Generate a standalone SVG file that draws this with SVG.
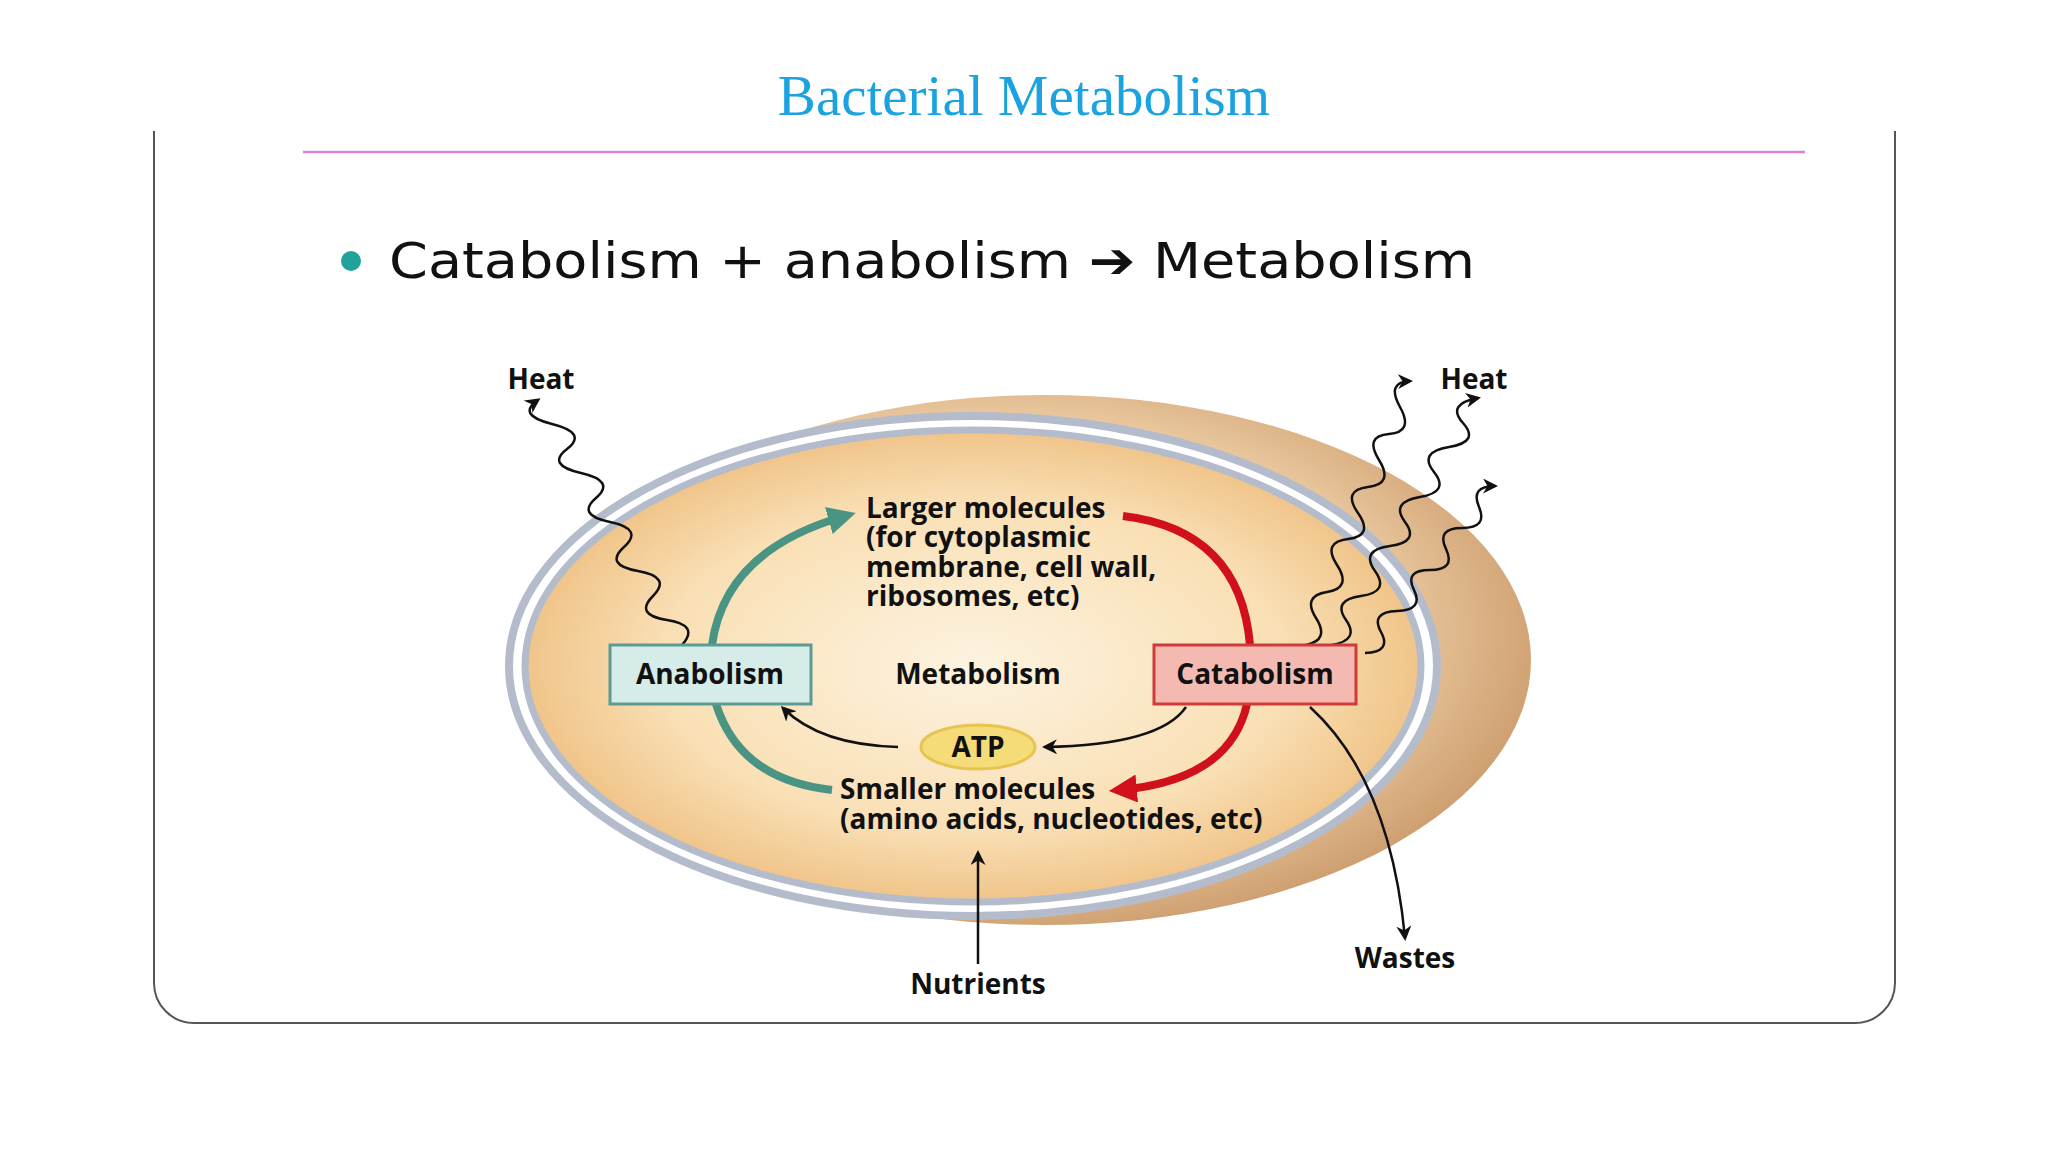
<svg xmlns="http://www.w3.org/2000/svg" width="2048" height="1152" viewBox="0 0 2048 1152">
<style>
.b{font-family:"Open Sans","DejaVu Sans",sans-serif;font-weight:bold;fill:#111}
.lb{font-size:28px}
.w{fill:none;stroke:#111;stroke-width:2.5}
</style>
<defs>
<radialGradient id="inner" cx="0.5" cy="0.5" r="0.5">
<stop offset="0" stop-color="#fdf3e0"/><stop offset="0.7" stop-color="#f9dfb4"/><stop offset="1" stop-color="#f0c489"/>
</radialGradient>
<radialGradient id="back" cx="0.45" cy="0.45" r="0.6">
<stop offset="0.6" stop-color="#f2d4ac"/><stop offset="1" stop-color="#c99868"/>
</radialGradient>
<marker id="ak" viewBox="0 0 10 10" refX="8" refY="5" markerWidth="6" markerHeight="6" orient="auto"><path d="M0,0 L10,5 L0,10 L3,5 z" fill="#111"/></marker>
<marker id="ag" viewBox="0 0 10 10" refX="6" refY="5" markerWidth="3.5" markerHeight="3.5" orient="auto"><path d="M0,0 L10,5 L0,10 z" fill="#4a9484"/></marker>
<marker id="ar" viewBox="0 0 10 10" refX="6" refY="5" markerWidth="3.5" markerHeight="3.5" orient="auto"><path d="M0,0 L10,5 L0,10 z" fill="#d0101a"/></marker>
</defs>
<rect width="2048" height="1152" fill="#fff"/>
<text x="1024" y="115" text-anchor="middle" font-family="Liberation Serif,serif" font-size="57" fill="#1aa3e0">Bacterial Metabolism</text>
<path d="M154,131 V983 A40,40 0 0 0 194,1023 H1855 A40,40 0 0 0 1895,983 V131" fill="none" stroke="#555" stroke-width="2"/>
<line x1="303" y1="152" x2="1805" y2="152" stroke="#e080d8" stroke-width="2.5"/>
<circle cx="351" cy="261" r="10" fill="#1fa39a"/>
<text x="389" y="278" font-family="DejaVu Sans,sans-serif" font-size="50" fill="#111" textLength="1086" lengthAdjust="spacingAndGlyphs">Catabolism + anabolism ➔ Metabolism</text>

<g id="cell">
<ellipse cx="1045" cy="660" rx="486" ry="265" fill="url(#back)"/>
<ellipse cx="973" cy="666" rx="464" ry="250" fill="#fff" stroke="#b4bccc" stroke-width="8"/>
<ellipse cx="973" cy="666" rx="448" ry="236" fill="url(#inner)" stroke="#b4bccc" stroke-width="7"/>
</g>

<g id="connectors">
<path d="M712,645 Q725,550 845,516" fill="none" stroke="#4a9484" stroke-width="8" marker-end="url(#ag)"/>
<path d="M716,704 Q740,780 832,790" fill="none" stroke="#4a9484" stroke-width="8"/>
<path d="M1123,516 Q1240,530 1250,645" fill="none" stroke="#d0101a" stroke-width="8"/>
<path d="M1247,704 Q1230,780 1120,790" fill="none" stroke="#d0101a" stroke-width="8" marker-end="url(#ar)"/>
<path d="M1186,707 Q1160,745 1045,747" class="w" marker-end="url(#ak)"/>
<path d="M898,747 Q820,745 783,708" class="w" marker-end="url(#ak)"/>
<path d="M978,964 V853" class="w" marker-end="url(#ak)"/>
<path d="M1310,707 Q1390,780 1405,938" class="w" marker-end="url(#ak)"/>
<path d="M682,645 Q700,625 667,620 T653,596 T638,571 T624,547 T610,522 T596,498 T581,473 T567,449 T552,424 T538,400" class="w" marker-end="url(#ak)"/>
<path d="M1306,645 Q1330,640 1316,618 T1327,592 T1337,565 T1348,539 T1358,513 T1368,487 T1379,460 T1389,434 T1400,407 T1410,381" class="w" marker-end="url(#ak)"/>
<path d="M1332,645 Q1360,640 1346,620 T1361,596 T1375,571 T1390,546 T1405,522 T1420,497 T1434,472 T1449,447 T1463,423 T1478,398" class="w" marker-end="url(#ak)"/>
<path d="M1365,653 Q1392,652 1381,632 T1397,611 T1414,590 T1430,570 T1446,549 T1462,528 T1479,507 T1495,486" class="w" marker-end="url(#ak)"/>
</g>

<g id="anabolism"><rect x="610" y="645" width="201" height="59" fill="#d6ece9" stroke="#5a9c94" stroke-width="3"/><text x="710" y="684" text-anchor="middle" class="b lb">Anabolism</text></g>
<g id="catabolism"><rect x="1154" y="645" width="202" height="59" fill="#f4bab2" stroke="#d03a3a" stroke-width="3"/><text x="1255" y="684" text-anchor="middle" class="b lb">Catabolism</text></g>
<g id="metabolism"><text x="978" y="684" text-anchor="middle" class="b lb">Metabolism</text></g>
<g id="atp"><ellipse cx="978" cy="747" rx="57" ry="22" fill="#f6dc78" stroke="#e6c450" stroke-width="3"/><text x="978" y="757" text-anchor="middle" class="b lb">ATP</text></g>
<g id="larger"><text class="b lb"><tspan x="866" y="518">Larger molecules</tspan><tspan x="866" y="547">(for cytoplasmic</tspan><tspan x="866" y="577">membrane, cell wall,</tspan><tspan x="866" y="606">ribosomes, etc)</tspan></text></g>
<g id="smaller"><text class="b lb"><tspan x="840" y="799">Smaller molecules</tspan><tspan x="840" y="829">(amino acids, nucleotides, etc)</tspan></text></g>
<g id="nutrients"><text x="978" y="994" text-anchor="middle" class="b lb">Nutrients</text></g>
<g id="wastes"><text x="1405" y="968" text-anchor="middle" class="b lb">Wastes</text></g>
<g id="heatL"><text x="541" y="389" text-anchor="middle" class="b lb">Heat</text></g>
<g id="heatR"><text x="1474" y="389" text-anchor="middle" class="b lb">Heat</text></g>
</svg>
